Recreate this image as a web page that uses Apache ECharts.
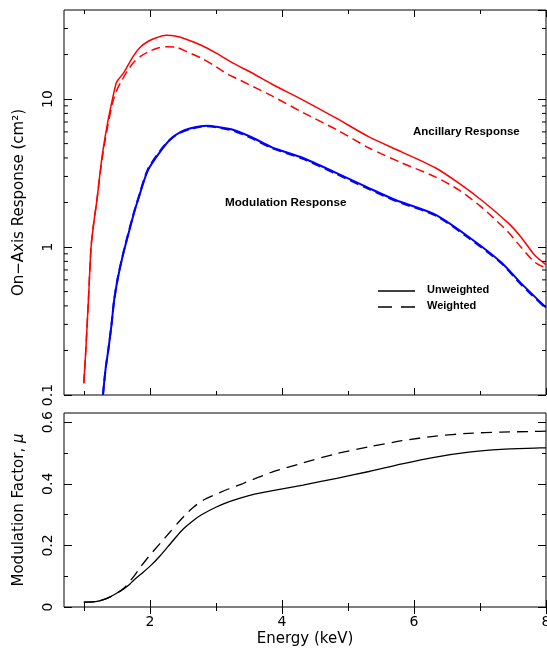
<!DOCTYPE html>
<html><head><meta charset="utf-8">
<script src="https://cdn.jsdelivr.net/npm/echarts@6/dist/echarts.min.js"></script>
<style>html,body{margin:0;padding:0;background:#fff}#c{width:547px;height:650px}</style>
</head><body><div id="c"></div><script>
const X_MIN = 0.7, X_MAX = 8;
const X_MAJOR = [2, 4, 6, 8];
const X_MINOR = [1, 3, 5, 7];
const LOG_MINOR = [0.2,0.3,0.4,0.5,0.6,0.7,0.8,0.9,2,3,4,5,6,7,8,9,20,30];
const MU_MAJOR = [0, 0.2, 0.4, 0.6];
const MU_MINOR = [0.1, 0.3, 0.5];

// Ancillary response (red), cm^2 vs keV
const ancUnweighted = [[1.0,0.12],[1.03,0.2],[1.07,0.44],[1.11,1.0],[1.15,1.45],[1.2,2.1],[1.25,3.3],[1.29,4.5],[1.36,6.9],[1.44,10.3],[1.49,12.8],[1.52,13.5],[1.61,15.2],[1.74,19.2],[1.85,22.3],[1.97,24.5],[2.1,26.0],[2.25,27.0],[2.4,26.6],[2.55,25.4],[2.77,23.2],[3.0,20.5],[3.26,17.5],[3.55,15.0],[3.85,12.6],[4.32,9.85],[4.83,7.4],[5.32,5.55],[5.82,4.38],[6.33,3.42],[6.68,2.7],[7.02,2.08],[7.43,1.45],[7.62,1.17],[7.83,0.88],[8.0,0.76]];
const ancWeighted = [[1.0,0.12],[1.03,0.2],[1.07,0.44],[1.11,1.0],[1.15,1.45],[1.2,2.1],[1.25,3.2],[1.29,4.3],[1.36,6.5],[1.44,9.6],[1.5,11.5],[1.56,13.0],[1.66,15.5],[1.76,17.8],[1.87,19.6],[1.97,20.8],[2.1,22.0],[2.25,22.6],[2.4,22.4],[2.57,20.8],[2.77,19.0],[2.96,17.0],[3.17,14.8],[3.37,13.4],[3.62,11.8],[3.85,10.5],[4.32,8.1],[4.83,6.2],[5.32,4.67],[5.82,3.7],[6.33,2.97],[6.68,2.43],[7.0,1.9],[7.2,1.58],[7.43,1.26],[7.62,1.0],[7.83,0.79],[8.0,0.72]];
// Modulation response (blue)
const modUnweighted = [[1.29,0.1],[1.33,0.15],[1.37,0.2],[1.42,0.3],[1.46,0.44],[1.52,0.63],[1.61,0.95],[1.7,1.35],[1.76,1.7],[1.82,2.08],[1.97,3.3],[2.17,4.5],[2.32,5.4],[2.47,6.0],[2.62,6.35],[2.77,6.55],[2.87,6.6],[3.05,6.45],[3.26,6.2],[3.55,5.5],[3.85,4.72],[4.32,4.0],[4.83,3.16],[5.32,2.5],[5.72,2.08],[6.33,1.65],[6.83,1.17],[7.32,0.79],[7.62,0.57],[8.0,0.39]];
const modWeighted = [[1.29,0.1],[1.33,0.15],[1.37,0.2],[1.42,0.3],[1.46,0.44],[1.52,0.64],[1.61,0.96],[1.7,1.37],[1.76,1.72],[1.82,2.1],[1.97,3.35],[2.17,4.55],[2.32,5.4],[2.47,5.95],[2.62,6.3],[2.77,6.5],[2.87,6.55],[3.05,6.4],[3.26,6.12],[3.55,5.42],[3.85,4.66],[4.32,3.94],[4.83,3.11],[5.32,2.46],[5.72,2.05],[6.33,1.63],[6.83,1.15],[7.32,0.78],[7.62,0.56],[8.0,0.385]];
// Modulation factor mu (black)
const muUnweighted = [[1.0,0.016],[1.1,0.016],[1.2,0.018],[1.3,0.024],[1.4,0.033],[1.5,0.045],[1.6,0.058],[1.7,0.075],[1.76,0.088],[1.9,0.113],[2.02,0.136],[2.15,0.165],[2.27,0.195],[2.4,0.228],[2.51,0.254],[2.64,0.278],[2.77,0.298],[3.0,0.324],[3.26,0.346],[3.5,0.362],[3.82,0.376],[4.32,0.396],[4.83,0.418],[5.32,0.44],[5.82,0.465],[6.33,0.487],[6.83,0.503],[7.32,0.512],[7.83,0.516],[8.0,0.517]];
const muWeighted = [[1.0,0.016],[1.2,0.018],[1.4,0.033],[1.6,0.06],[1.76,0.1],[1.86,0.13],[2.0,0.168],[2.17,0.21],[2.3,0.242],[2.42,0.272],[2.54,0.3],[2.66,0.324],[2.8,0.346],[3.0,0.366],[3.2,0.384],[3.41,0.401],[3.62,0.419],[3.85,0.438],[4.32,0.468],[4.83,0.498],[5.32,0.52],[5.82,0.54],[6.33,0.555],[6.83,0.564],[7.32,0.568],[7.83,0.57],[8.0,0.571]];

const FONT = '"Liberation Sans", Arial, Helvetica, sans-serif';
const AFONT = '"DejaVu Sans", Verdana, sans-serif';
const tickStyle = { color: '#000', width: 1 };

function xAx(grid, pos, ticks, len, withLabel, name) {
  const a = {
    type: 'value', gridIndex: grid, position: pos, min: X_MIN, max: X_MAX,
    axisLine: { show: false }, splitLine: { show: false },
    axisTick: { show: true, inside: true, length: len, customValues: ticks, lineStyle: tickStyle },
    axisLabel: { show: !!withLabel, customValues: X_MAJOR, margin: 8, fontSize: 14, color: '#000', fontFamily: AFONT }
  };
  if (name) {
    a.name = name; a.nameLocation = 'middle'; a.nameGap = 25;
    a.nameTextStyle = { fontSize: 15, color: '#000', fontFamily: AFONT };
  }
  return a;
}
function muAx(pos, ticks, len, withLabel) {
  const a = {
    type: 'value', gridIndex: 1, position: pos, min: 0, max: 0.63,
    axisLine: { show: false }, splitLine: { show: false },
    axisTick: { show: true, inside: true, length: len, customValues: ticks, lineStyle: tickStyle },
    axisLabel: { show: !!withLabel, customValues: MU_MAJOR, rotate: 90, margin: 9, fontSize: 14, color: '#000', fontFamily: AFONT }
  };
  if (withLabel) {
    a.name = 'Modulation Factor, {i|μ}'; a.nameLocation = 'middle'; a.nameGap = 37; a.nameRotate = 90;
    a.nameTextStyle = { fontSize: 15, color: '#000', fontFamily: AFONT, rich: { i: { fontSize: 15, fontStyle: 'italic', color: '#000', fontFamily: AFONT } } };
  }
  return a;
}
function logAx(pos, withLabel) {
  const a = {
    type: 'log', logBase: 10, gridIndex: 0, position: pos, min: 0.1, max: 40,
    axisLine: { show: false }, splitLine: { show: false }, minorTick: { show: false },
    axisTick: { show: true, inside: true, length: 8, lineStyle: tickStyle },
    axisLabel: { show: !!withLabel, showMaxLabel: false, rotate: 90, margin: 9, fontSize: 14, color: '#000', fontFamily: AFONT,
      formatter: v => String(Math.round(v * 10) / 10) }
  };
  if (withLabel) {
    a.name = 'On−Axis Response (cm²)'; a.nameLocation = 'middle'; a.nameGap = 37; a.nameRotate = 90;
    a.nameTextStyle = { fontSize: 15, color: '#000', fontFamily: AFONT };
  }
  return a;
}

const chart = echarts.init(document.getElementById('c'), null, { renderer: 'canvas' });
const line = (name, data, color, dash, xi, yi, w) => ({
  name, type: 'line', data, xAxisIndex: xi, yAxisIndex: yi, showSymbol: false, symbol: 'none', smooth: 0.25,
  lineStyle: { color, width: w, type: dash || 'solid' }, silent: true, animation: false, z: 3
});

chart.setOption({
  animation: false,
  backgroundColor: '#fff',
  grid: [
    { left: 64, top: 10, width: 482, height: 385, show: true, borderColor: '#000', borderWidth: 1, backgroundColor: 'transparent', outerBoundsMode: 'none', containLabel: false },
    { left: 64, top: 413, width: 482, height: 194, show: true, borderColor: '#000', borderWidth: 1, backgroundColor: 'transparent', outerBoundsMode: 'none', containLabel: false }
  ],
  xAxis: [
    xAx(0, 'bottom', X_MAJOR, 7), xAx(0, 'top', X_MAJOR, 7), xAx(0, 'bottom', X_MINOR, 4), xAx(0, 'top', X_MINOR, 4),
    xAx(1, 'bottom', X_MAJOR, 7, true, 'Energy (keV)'), xAx(1, 'top', X_MAJOR, 7), xAx(1, 'bottom', X_MINOR, 4), xAx(1, 'top', X_MINOR, 4)
  ],
  yAxis: [
    logAx('left', true), logAx('right', false),
    muAx('left', MU_MAJOR, 8, true), muAx('right', MU_MAJOR, 8), muAx('left', MU_MINOR, 4), muAx('right', MU_MINOR, 4)
  ],
  series: [
    line('Ancillary Unweighted', ancUnweighted, '#ff0000', null, 0, 0, 1.5),
    line('Ancillary Weighted', ancWeighted, '#ff0000', [9, 5], 0, 0, 1.5),
    line('Modulation Unweighted', modUnweighted, '#0000ff', null, 0, 0, 2),
    line('Modulation Weighted', modWeighted, '#0000ff', [9, 5], 0, 0, 2),
    line('mu Unweighted', muUnweighted, '#000000', null, 4, 2, 1.3),
    line('mu Weighted', muWeighted, '#000000', [11, 7], 4, 2, 1.3),
    {
      type: 'custom', xAxisIndex: 0, yAxisIndex: 0, silent: true, clip: false, z: 4,
      data: LOG_MINOR.map(v => [X_MIN, v]),
      encode: { x: 0, y: 1 },
      renderItem: (params, api) => {
        const v = api.value(1);
        const l = api.coord([X_MIN, v]);
        const r = api.coord([X_MAX, v]);
        return { type: 'group', children: [
          { type: 'line', shape: { x1: l[0], y1: l[1], x2: l[0] + 4, y2: l[1] }, style: { stroke: '#000', lineWidth: 1 } },
          { type: 'line', shape: { x1: r[0] - 4, y1: r[1], x2: r[0], y2: r[1] }, style: { stroke: '#000', lineWidth: 1 } }
        ] };
      }
    }
  ],
  graphic: [
    { type: 'text', left: 413, top: 126, style: { text: 'Ancillary Response', font: 'bold 11.5px ' + FONT, fill: '#000' } },
    { type: 'text', left: 225, top: 197, style: { text: 'Modulation Response', font: 'bold 11.7px ' + FONT, fill: '#000' } },
    { type: 'line', shape: { x1: 378, y1: 291, x2: 415, y2: 291 }, style: { stroke: '#000', lineWidth: 1.5 } },
    { type: 'line', shape: { x1: 378, y1: 307, x2: 415, y2: 307 }, style: { stroke: '#000', lineWidth: 1.5, lineDash: [14, 9] } },
    { type: 'text', left: 427, top: 284, style: { text: 'Unweighted', font: 'bold 11px ' + FONT, fill: '#000' } },
    { type: 'text', left: 427, top: 300, style: { text: 'Weighted', font: 'bold 11px ' + FONT, fill: '#000' } }
  ]
});
</script></body></html>
